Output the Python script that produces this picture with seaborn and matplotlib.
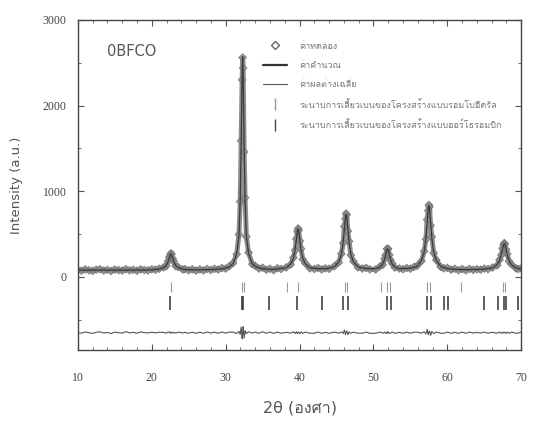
import numpy as np
import pandas as pd
import matplotlib
matplotlib.use("Agg")
import matplotlib.pyplot as plt
import seaborn as sns
from matplotlib import font_manager
from matplotlib.ft2font import FT2Font
from matplotlib.lines import Line2D

# ---------------- data ----------------
two_theta = [
    10.0, 10.5, 11.0, 11.5, 12.0, 12.5, 13.0, 13.5, 14.0, 14.5, 15.0, 15.5,
    16.0, 16.5, 17.0, 17.5, 18.0, 18.5, 19.0, 19.5, 20.0, 20.5,
    21.0, 21.6, 21.96, 22.2, 22.36, 22.52, 22.6, 22.68, 22.84, 23.0, 23.24, 23.6, 24.2,
    24.5, 25.0, 25.5, 26.0, 26.5, 27.0, 27.5, 28.0, 28.5, 29.0, 29.5, 30.0, 30.5,
    31.0, 31.5, 31.8, 31.97, 32.1, 32.23, 32.3, 32.37, 32.5, 32.63, 32.8, 33.1, 33.6,
    34.0, 34.5, 35.0, 35.5, 36.0, 36.5, 37.0, 37.5,
    38.2, 38.8, 39.16, 39.4, 39.56, 39.72, 39.8, 39.88, 40.04, 40.2, 40.44, 40.8, 41.4,
    42.0, 42.5, 43.0, 43.5, 44.0,
    44.7, 45.3, 45.66, 45.9, 46.06, 46.22, 46.3, 46.38, 46.54, 46.7, 46.94, 47.3, 47.9,
    48.5, 49.0, 49.5,
    50.3, 50.9, 51.26, 51.5, 51.66, 51.82, 51.9, 51.98, 52.14, 52.3, 52.54, 52.9, 53.5,
    54.0, 54.5, 55.0, 55.5,
    55.9, 56.5, 56.86, 57.1, 57.26, 57.42, 57.5, 57.58, 57.74, 57.9, 58.14, 58.5, 59.1,
    59.5, 60.0, 60.5, 61.0, 61.5, 62.0, 62.5, 63.0, 63.5, 64.0, 64.5, 65.0, 65.5,
    66.1, 66.74, 67.06, 67.3, 67.46, 67.62, 67.7, 67.78, 67.94, 68.1, 68.34, 68.66, 69.3,
    69.6, 70.0,
]
observed = [
    82, 74, 88, 79, 71, 85, 90, 76, 83, 70, 87, 80,
    75, 92, 78, 84, 73, 89, 81, 77, 90, 84,
    96, 112, 128, 182, 228, 255, 276, 268, 214, 180, 127, 115, 88,
    92, 79, 90, 75, 88, 77, 93, 82, 95, 87, 104, 98, 125,
    162, 265, 495, 880, 1590, 2300, 2560, 2440, 1460, 925, 470, 285, 150,
    130, 99, 108, 85, 96, 80, 102, 93,
    112, 145, 225, 310, 445, 530, 566, 548, 420, 330, 205, 158, 101,
    94, 104, 89, 101, 96,
    125, 170, 270, 395, 590, 680, 740, 725, 535, 415, 255, 182, 112,
    98, 106, 90,
    88, 124, 143, 212, 255, 328, 322, 330, 258, 198, 158, 110, 99,
    92, 105, 97, 118,
    130, 185, 300, 440, 670, 775, 840, 820, 600, 470, 280, 198, 118,
    102, 106, 86, 95, 80, 92, 78, 94, 83, 91, 85, 98, 92,
    110, 135, 200, 255, 335, 375, 395, 385, 320, 270, 185, 148, 100,
    94, 100,
]
calculated = [
    80, 80, 80, 80, 80, 80, 80, 80, 80, 80, 80, 80,
    80, 80, 80, 80, 80, 80, 80, 80, 84, 87,
    91, 108, 133, 175, 220, 262, 270, 262, 220, 175, 133, 108, 91,
    88, 85, 84, 83, 83, 84, 85, 87, 89, 93, 96, 103, 118,
    155, 274, 480, 900, 1524, 2370, 2570, 2370, 1524, 900, 480, 274, 155,
    123, 106, 97, 92, 89, 87, 96, 99,
    108, 151, 214, 320, 433, 541, 560, 541, 433, 320, 214, 151, 108,
    101, 97, 96, 98, 103,
    118, 176, 262, 405, 558, 704, 730, 704, 558, 405, 262, 176, 118,
    104, 99, 97,
    95, 117, 150, 205, 264, 320, 330, 320, 264, 205, 150, 117, 95,
    99, 99, 103, 112,
    124, 191, 290, 455, 631, 800, 830, 800, 631, 455, 290, 191, 124,
    109, 99, 93, 90, 87, 86, 85, 87, 87, 88, 89, 92, 97,
    106, 142, 192, 263, 328, 381, 390, 381, 328, 263, 192, 142, 106,
    99, 93,
]
diff_offset = -650
bragg_phase1 = [22.6, 32.2, 32.5, 38.3, 39.8, 46.2, 46.4, 51.0, 51.9, 52.3,
                57.3, 57.6, 61.8, 67.5, 67.8]
bragg_phase2 = [22.5, 32.2, 32.4, 35.9, 39.7, 43.0, 45.9, 46.6, 51.8, 52.4,
                57.3, 57.8, 59.6, 60.1, 64.9, 66.9, 67.6, 67.9, 69.6]
bragg1_level = -115
bragg2_level = -300

sample_label = "0BFCO"
legend_labels = [
    "ค่าทดลอง",
    "ค่าคำนวณ",
    "ค่าผลต่างเฉลี่ย",
    "ระนาบการเลี้ยวเบนของโครงสร้างแบบรอมโบฮีดรัล",
    "ระนาบการเลี้ยวเบนของโครงสร้างแบบออร์โธรอมบิก",
]
x_ticks = [10, 20, 30, 40, 50, 60, 70]
y_ticks = [0, 1000, 2000, 3000]

# ---------------- fonts ----------------
def find_font_with(ch):
    for f in font_manager.fontManager.ttflist:
        try:
            if ord(ch) in FT2Font(f.fname).get_charmap():
                return f.name
        except Exception:
            pass
    return None

sns.set_theme(style="ticks")
thai = find_font_with("อ")
fams = ["DejaVu Sans"] + ([thai] if thai else [])
plt.rcParams["font.family"] = fams

df = pd.DataFrame({"x": two_theta, "obs": observed, "calc": calculated})
df["diff"] = df["obs"] - df["calc"] + diff_offset
b1 = pd.DataFrame({"x": bragg_phase1, "y": bragg1_level})
b2 = pd.DataFrame({"x": bragg_phase2, "y": bragg2_level})

fig = plt.figure(figsize=(5.33, 4.23), dpi=100)
ax = fig.add_axes([0.146, 0.173, 0.832, 0.780])

obs_color = "#7a7a7a"
calc_color = "#3a3a3a"
ax.plot(df["x"], df["obs"], color="#8f8f8f", lw=3.6, zorder=1)
sns.scatterplot(data=df, x="x", y="obs", ax=ax, marker="D", s=14,
                facecolor="none", edgecolor=obs_color, linewidth=0.8, zorder=2)
sns.lineplot(data=df, x="x", y="calc", ax=ax, color=calc_color, lw=0.9, zorder=3)
sns.lineplot(data=df, x="x", y="diff", ax=ax, color="#555555", lw=0.8, zorder=3)
sns.scatterplot(data=b1, x="x", y="y", ax=ax, marker="|", s=45, color="#9a9a9a",
                linewidth=0.8, zorder=3)
sns.scatterplot(data=b2, x="x", y="y", ax=ax, marker="|", s=110, color="#333333",
                linewidth=1.1, zorder=3)

ax.set_xlim(10, 70)
ax.set_ylim(-850, 3000)
ax.set_xticks(x_ticks)
ax.set_yticks(y_ticks)
ax.set_yticks(np.arange(-500, 3001, 500), minor=True)
ax.set_xticks(np.arange(10, 71, 2), minor=True)
ax.tick_params(which="both", direction="in", top=True, right=True, colors="#555555")
ax.tick_params(which="major", length=4, width=0.8)
ax.tick_params(which="minor", length=2, width=0.6)
for lab in ax.get_xticklabels() + ax.get_yticklabels():
    lab.set_fontfamily("Liberation Serif")
    lab.set_fontsize(8.5)
    lab.set_color("#444444")
ax.tick_params(axis="x", pad=16)
ax.tick_params(axis="y", pad=8)
for s in ax.spines.values():
    s.set_color("#444444")
    s.set_linewidth(1.0)

ax.set_xlabel("2θ (องศา)", fontsize=11.5, color="#555555", labelpad=12,
              family=fams)
ax.set_ylabel("Intensity (a.u.)", fontsize=9.5, color="#555555", labelpad=14)

ax.text(0.065, 0.905, sample_label, transform=ax.transAxes, fontsize=10.5,
        color="#555555", va="center", ha="left")

handles = [
    Line2D([], [], ls="none", marker="D", markersize=4, markerfacecolor="none",
           markeredgecolor="#666666"),
    Line2D([], [], color="#333333", lw=1.6),
    Line2D([], [], color="#555555", lw=0.8),
    Line2D([], [], ls="none", marker="|", markersize=8, color="#999999"),
    Line2D([], [], ls="none", marker="|", markersize=8, color="#444444"),
]
leg = ax.legend(handles, legend_labels, loc="upper left", bbox_to_anchor=(0.41, 0.945),
                frameon=False, fontsize=6.5, handlelength=2.6, labelspacing=1.15,
                handletextpad=1.4, borderaxespad=0)
for t in leg.get_texts():
    t.set_color("#777777")

fig.savefig("out.png", dpi=100)
